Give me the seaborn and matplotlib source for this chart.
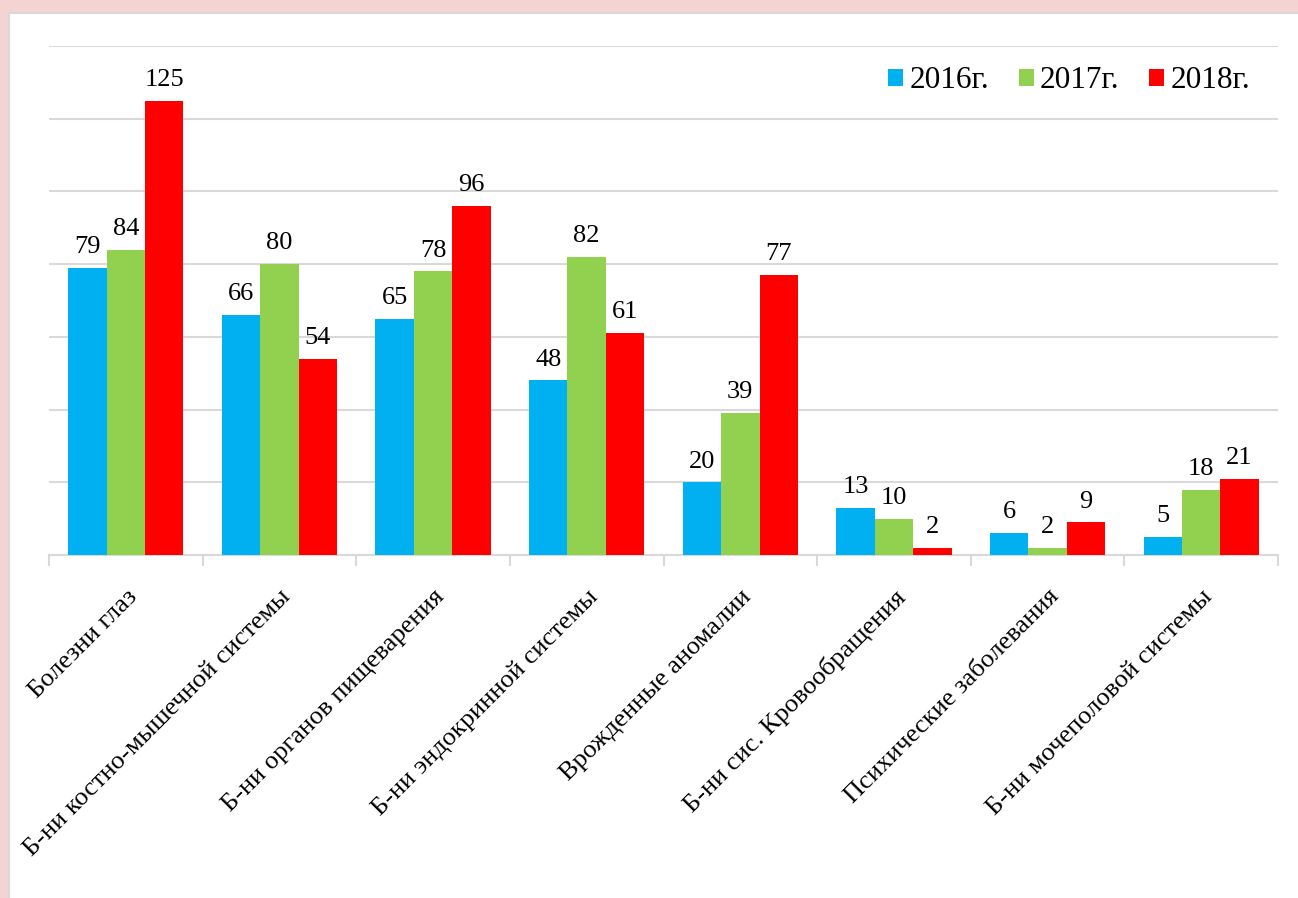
import pandas as pd
import matplotlib
matplotlib.use("Agg")
import matplotlib.pyplot as plt
import seaborn as sns
from matplotlib.patches import Rectangle
from matplotlib.ticker import MultipleLocator, FixedLocator

# Данные
categories = [
    "Болезни глаз",
    "Б-ни костно-мышечной системы",
    "Б-ни органов пищеварения",
    "Б-ни эндокринной системы",
    "Врожденные аномалии",
    "Б-ни сис. Кровообращения",
    "Психические заболевания",
    "Б-ни мочеполовой системы",
]
years = ["2016г.", "2017г.", "2018г."]
values_2016 = [79, 66, 65, 48, 20, 13, 6, 5]
values_2017 = [84, 80, 78, 82, 39, 10, 2, 18]
values_2018 = [125, 54, 96, 61, 77, 2, 9, 21]
colors = ["#00B0F0", "#92D050", "#FF0000"]

df = pd.DataFrame({
    "category": categories * 3,
    "year": [years[0]] * 8 + [years[1]] * 8 + [years[2]] * 8,
    "value": values_2016 + values_2017 + values_2018,
})

sns.set_style("white")
plt.rcParams["font.family"] = ["Liberation Serif", "DejaVu Serif"]
plt.rcParams["text.color"] = "black"
plt.rcParams["xtick.color"] = "black"

fig = plt.figure(figsize=(12.98, 8.98), dpi=100)
fig.patch.set_facecolor("#F4D3D3")
# белая подложка
fig.patches.append(Rectangle((9 / 1298, -0.01), 1.0, 1.01 - 13 / 898, transform=fig.transFigure,
                             facecolor="white", edgecolor="#D9D9D9", linewidth=1.5, zorder=-10))

ax = fig.add_axes([49 / 1298, 1 - 555 / 898, (1278 - 49) / 1298, (555 - 46) / 898])
ax.set_facecolor("none")

sns.barplot(data=df, x="category", y="value", hue="year", palette=colors,
            width=0.75, saturation=1, linewidth=0, ax=ax, zorder=3)

for c in ax.containers:
    ax.bar_label(c, padding=7, fontsize=19, color="black")

ax.set_ylim(0, 140)
ax.set_xlim(-0.5, 7.5)
ax.yaxis.set_major_locator(MultipleLocator(20))
ax.grid(axis="y", color="#D9D9D9", linewidth=1.5, zorder=0)
ax.set_yticklabels([])
ax.tick_params(axis="y", length=0)
ax.set_xlabel("")
ax.set_ylabel("")

for s in ["top", "right", "left"]:
    ax.spines[s].set_visible(False)
ax.spines["bottom"].set_color("#D9D9D9")
ax.spines["bottom"].set_linewidth(1.5)

ax.xaxis.set_minor_locator(FixedLocator([i - 0.5 for i in range(9)]))
ax.tick_params(axis="x", which="minor", length=8, width=1.5, color="#D9D9D9", bottom=True)
ax.tick_params(axis="x", which="major", length=0, pad=22)
plt.setp(ax.get_xticklabels(), rotation=45, ha="right", rotation_mode="anchor",
         fontsize=19, color="black")

leg = ax.legend(loc="upper right", bbox_to_anchor=(1.0, 1.015), ncol=3, frameon=False,
                fontsize=22.5, handlelength=0.48, handleheight=0.48, handletextpad=0.2,
                columnspacing=0.95)

fig.savefig("out.png", dpi=100, facecolor=fig.get_facecolor())
